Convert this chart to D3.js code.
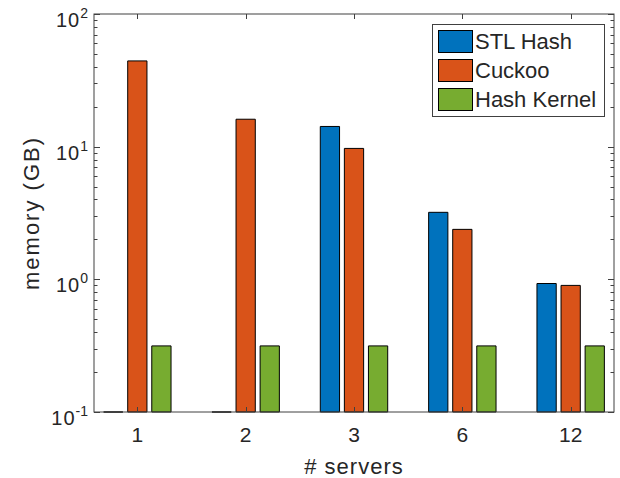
<!DOCTYPE html>
<html>
<head>
<meta charset="utf-8">
<script src="https://cdn.jsdelivr.net/npm/d3@7"></script>
<style>
  body { margin: 0; background: #fff; }
  text { font-family: "Liberation Sans", Arial, Helvetica, sans-serif; fill: #262626; }
</style>
</head>
<body>
<svg id="chart" width="620" height="478"></svg>
<script>
// values (GB); 0 = no bar shown
var categories = ["1", "2", "3", "6", "12"];
var seriesNames = ["STL Hash", "Cuckoo", "Hash Kernel"];
var stlHash = [0, 0, 14.2, 3.2, 0.93];
var cuckoo = [44.3, 16.1, 9.7, 2.38, 0.9];
var hashKernel = [0.315, 0.315, 0.315, 0.315, 0.315];
var yTicks = [0.1, 1, 10, 100];

var svg = d3.select("#chart");
var plot = { left: 94, right: 614, top: 14, bottom: 412 };
var colors = ["#0072BD", "#D95319", "#77AC30"];
var axisColor = "#404040";

var series = [stlHash, cuckoo, hashKernel];

var x = d3.scaleLinear().domain([0.6, categories.length + 0.4]).range([plot.left, plot.right]);
var y = d3.scaleLog().domain([0.1, 100]).range([plot.bottom, plot.top]);
// position of each series inside a group, in category units
var inner = d3.scaleBand().domain(d3.range(seriesNames.length))
    .range([-1/3, 1/3]).paddingInner(0.2).paddingOuter(0.1);

// bars
var bars = svg.append("g");
series.forEach(function(vals, j) {
  bars.selectAll(".s" + j)
    .data(vals)
    .enter().append("path")
      .attr("d", function(v, i) {
        var x0 = x(i + 1 + inner(j)), x1 = x(i + 1 + inner(j) + inner.bandwidth());
        var yt = v > 0.1 ? y(v) : y(0.1);
        return "M" + x0 + "," + y(0.1) + "V" + yt + "H" + x1 + "V" + y(0.1) + "Z";
      })
      .attr("fill", colors[j])
      .attr("stroke", "#000")
      .attr("stroke-width", 1);
});

// box
svg.append("rect")
  .attr("x", plot.left).attr("y", plot.top)
  .attr("width", plot.right - plot.left).attr("height", plot.bottom - plot.top)
  .attr("fill", "none").attr("stroke", axisColor).attr("stroke-width", 1);

// y ticks (major + minor) inside, on both sides
var ticks = svg.append("g").attr("stroke", axisColor).attr("stroke-width", 1);
var minor = [];
for (var d = 0.1; d < 100; d *= 10) {
  for (var k = 2; k <= 9; k++) minor.push(d * k);
}
ticks.selectAll(".ymaj").data(yTicks).enter().append("path")
  .attr("d", function(v) {
    var yy = Math.round(y(v)) + 0.5;
    return "M" + plot.left + "," + yy + "h6M" + plot.right + "," + yy + "h-6";
  });
ticks.selectAll(".ymin").data(minor).enter().append("path")
  .attr("d", function(v) {
    var yy = Math.round(y(v)) + 0.5;
    return "M" + plot.left + "," + yy + "h3.5M" + plot.right + "," + yy + "h-3.5";
  });
ticks.selectAll(".xt").data(categories).enter().append("path")
  .attr("d", function(c, i) {
    var xx = Math.round(x(i + 1)) + 0.5;
    return "M" + xx + "," + plot.top + "v5M" + xx + "," + plot.bottom + "v-5";
  });

// y tick labels 10^n
var ylab = svg.append("g").selectAll("text").data(yTicks).enter().append("text")
  .attr("x", plot.left - 6)
  .attr("y", function(v) { return y(v) + 13; })
  .attr("text-anchor", "end")
  .style("font-size", "20px");
ylab.append("tspan").style("letter-spacing", "1px").text("10");
ylab.append("tspan")
  .attr("dy", -9)
  .style("font-size", "14px")
  .text(function(v) { return String(Math.round(Math.log10(v))); });

// x tick labels
svg.append("g").selectAll("text").data(categories).enter().append("text")
  .attr("x", function(c, i) { return x(i + 1); })
  .attr("y", 442)
  .attr("text-anchor", "middle")
  .style("font-size", "21px")
  .text(function(c) { return c; });

// axis labels
svg.append("text")
  .attr("x", (plot.left + plot.right) / 2).attr("y", 474)
  .attr("text-anchor", "middle")
  .style("font-size", "22px")
  .style("letter-spacing", "1px")
  .text("# servers");
svg.append("text")
  .attr("transform", "translate(39," + (plot.top + plot.bottom) / 2 + ") rotate(-90)")
  .attr("text-anchor", "middle")
  .style("font-size", "22px")
  .style("letter-spacing", "2px")
  .text("memory (GB)");

// legend
var lg = svg.append("g");
lg.append("rect")
  .attr("x", 432.5).attr("y", 24.5).attr("width", 172).attr("height", 92)
  .attr("fill", "#fff").attr("stroke", axisColor).attr("stroke-width", 1);
var item = lg.selectAll(".item").data(seriesNames).enter().append("g")
  .attr("transform", function(s, i) { return "translate(0," + (30 + i * 29) + ")"; });
item.append("rect")
  .attr("x", 438.5).attr("y", 0.5).attr("width", 34).attr("height", 22)
  .attr("fill", function(s, i) { return colors[i]; })
  .attr("stroke", "#000");
item.append("text")
  .attr("x", 475).attr("y", 19)
  .style("font-size", "22px")
  .text(function(s) { return s; });
</script>
</body>
</html>
